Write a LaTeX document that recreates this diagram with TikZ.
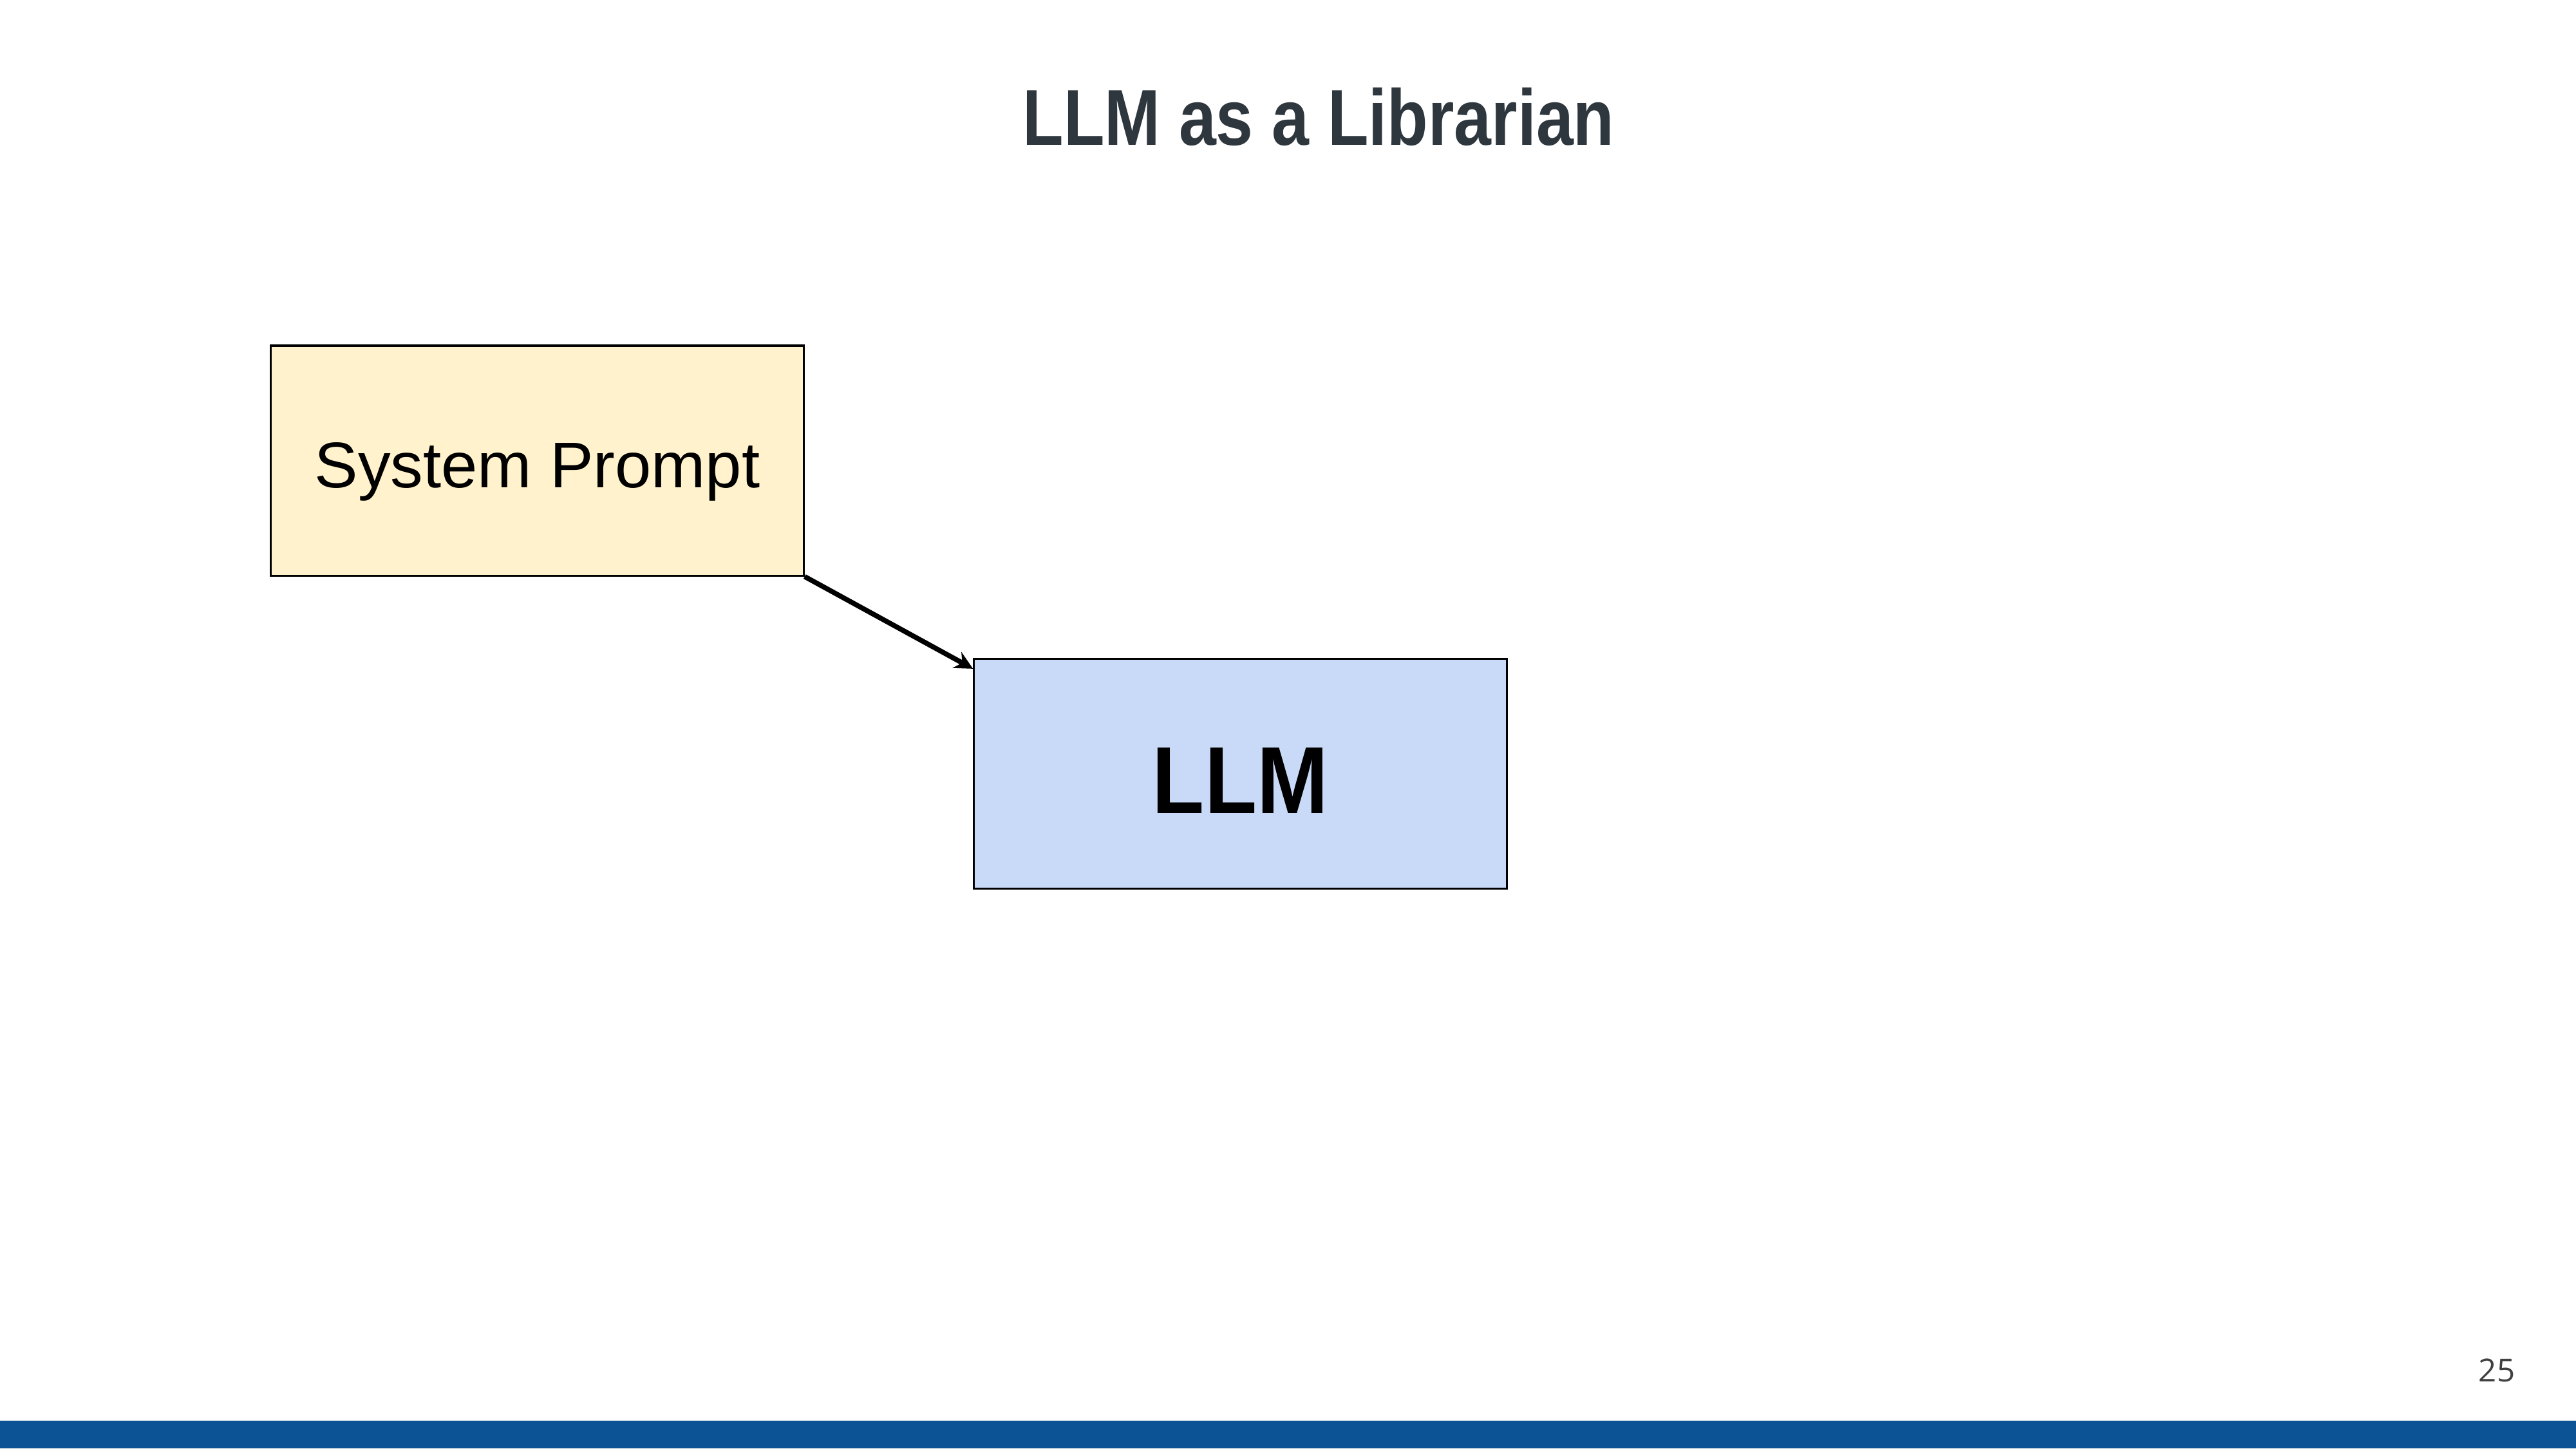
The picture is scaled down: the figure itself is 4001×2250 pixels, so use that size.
\documentclass[tikz,border=0pt]{standalone}
\usepackage{fontspec}
\usepackage{graphicx}
\setmainfont{Liberation Sans}
\newfontfamily\pagefont{Open Sans}
\usetikzlibrary{arrows.meta}
\definecolor{titlegray}{HTML}{2E363E}
\definecolor{spfill}{HTML}{FFF2CC}
\definecolor{llmfill}{HTML}{C9DAF8}
\definecolor{barblue}{HTML}{0B5394}
\definecolor{numgray}{HTML}{404040}
\begin{document}
\begin{tikzpicture}[x=0.01cm,y=-0.01cm,
  box/.style={draw=black, line width=0.9pt, inner sep=0pt, minimum width=8.27cm, minimum height=3.57cm}]
\useasboundingbox (0,0) rectangle (4001,2250);
\fill[white] (0,0) rectangle (4001,2250);
\node[font=\bfseries\fontsize{35}{42}\selectfont, text=titlegray, anchor=base, inner sep=0pt] (title) at (2048,225) {\scalebox{0.845}[1]{LLM as a Librarian}};
\node[box, fill=spfill, font=\fontsize{28.5}{34}\selectfont, text height=23.8pt, text depth=0pt] (sp) at (834.5,715.5) {\scalebox{1.01}[1]{System Prompt}};
\node[box, fill=llmfill, font=\bfseries\fontsize{42}{50}\selectfont, text height=34.7pt, text depth=0pt] (llm) at (1926.5,1202) {\scalebox{0.9}[1]{LLM}};
\draw[line width=2.2pt, -{Stealth[length=8pt,width=8pt]}] (sp.south east) -- ([yshift=-0.17cm]llm.north west);
\node[font=\pagefont\fontsize{14}{17}\selectfont, text=numgray, anchor=base, inner sep=0pt] (pagenum) at (3878,2146) {25};
\fill[barblue] (0,2207) rectangle (4001,2250);
\end{tikzpicture}
\end{document}
